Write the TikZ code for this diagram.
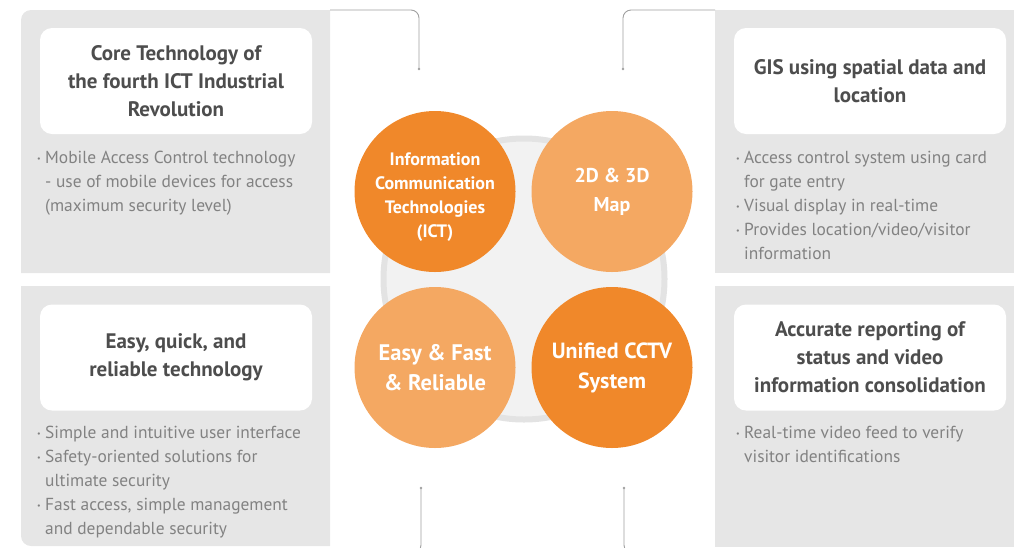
\documentclass[tikz,border=0pt]{standalone}
\usepackage{fontspec}
\setmainfont{PT Sans}
\definecolor{panelgray}{HTML}{E6E6E6}
\definecolor{darkor}{HTML}{F0882A}
\definecolor{lightor}{HTML}{F4A862}
\definecolor{titlegray}{HTML}{4D4D4D}
\definecolor{textgray}{HTML}{828282}
\definecolor{ringfill}{HTML}{F2F2F2}
\definecolor{ringline}{HTML}{E3E3E3}
\definecolor{linegray}{HTML}{A0A0A0}
\newcommand{\bu}{\makebox[8pt][l]{\raisebox{1.5pt}{\fontsize{8}{8}\selectfont\textbullet}}}
\newcommand{\ind}{\hspace*{8pt}}
\tikzset{
  panel/.style={fill=panelgray},
  whitebox/.style={fill=white, rounded corners=12pt, minimum width=272pt, minimum height=106pt,
    inner sep=0pt, align=center, text=titlegray, font=\bfseries\fontsize{21}{28}\selectfont},
  bullets/.style={anchor=north west, inner sep=0pt, align=left, text=textgray,
    font=\fontsize{17.4}{24}\selectfont},
  disc/.style={circle, minimum size=161pt, inner sep=0pt, align=center, text=white},
  conn/.style={draw=linegray, line width=0.9pt, rounded corners=8pt},
}
\begin{document}
\begin{tikzpicture}[x=1pt,y=-1pt]
\useasboundingbox (0,0) rectangle (1014,547);
% panels
\fill[panel] (330,10) -- (330,273) -- (21,273) -- (21,20) arc[start angle=180, end angle=270, radius=10] -- cycle;
\fill[panel] (21,286) -- (330,286) -- (330,546) -- (31,546) arc[start angle=90, end angle=180, radius=10] -- cycle;
\fill[panel] (715,10) rectangle (1014,273);
\fill[panel] (715,286) rectangle (1014,547);
% white title boxes
\node[whitebox] (b1) at (176,81) {Core Technology of\\the fourth ICT Industrial\\Revolution};
\node[whitebox] (b2) at (870,81) {GIS using spatial data and\\location};
\node[whitebox] (b3) at (176,357.5) {Easy, quick, and\\reliable technology};
\node[whitebox] (b4) at (870,357.5) {Accurate reporting of\\status and video\\information consolidation};
% bullets
\node[bullets] (t1) at (37,150.5) {\bu Mobile Access Control technology\\\ind - use of mobile devices for access\\\ind (maximum security level)};
\node[bullets] (t2) at (736,150.5) {\bu Access control system using card\\\ind for gate entry\\\bu Visual display in real-time\\\bu Provides location/video/visitor\\\ind information};
\node[bullets] (t3) at (37,425.5) {\bu Simple and intuitive user interface\\\bu Safety-oriented solutions for\\\ind ultimate security\\\bu Fast access, simple management\\\ind and dependable security};
\node[bullets] (t4) at (736,425.5) {\bu Real-time video feed to verify\\\ind visitor identifications};
% central ring
\node[circle, minimum size=281pt, fill=ringfill, draw=ringline, line width=6pt] (ring) at (524,279) {};
% discs
\node[disc, fill=darkor, label={[yshift=-6pt, text=white, align=center, font=\bfseries\fontsize{18}{24}\selectfont]center:{Information\\Communication\\Technologies\\(ICT)}}] (c1) at (435,191.5) {};
\node[disc, fill=lightor, font=\bfseries\fontsize{20}{29}\selectfont] (c2) at (612,191.5) {2D \& 3D\\Map};
\node[disc, fill=lightor, font=\bfseries\fontsize{22.5}{30}\selectfont] (c3) at (435,367.5) {Easy \& Fast\\\& Reliable};
\node[disc, fill=darkor, font=\bfseries\fontsize{22}{30}\selectfont] (c4) at (612,367.5) {Unified CCTV\\System};
% connectors
\coordinate (k1s) at (330,10);  \coordinate (k1e) at (419,69);
\coordinate (k2s) at (715,10);  \coordinate (k2e) at (623,69);
\coordinate (k3s) at (421,488); \coordinate (k3e) at (330,553);
\coordinate (k4s) at (624,488); \coordinate (k4e) at (715,553);
\draw[conn] (k1s) -| (k1e);
\draw[conn] (k2s) -| (k2e);
\draw[conn] (k3s) |- (k3e);
\draw[conn] (k4s) |- (k4e);
\foreach \p in {k1e,k2e,k3s,k4s} \fill[linegray] (\p) circle (1.4pt);
\end{tikzpicture}
\end{document}
